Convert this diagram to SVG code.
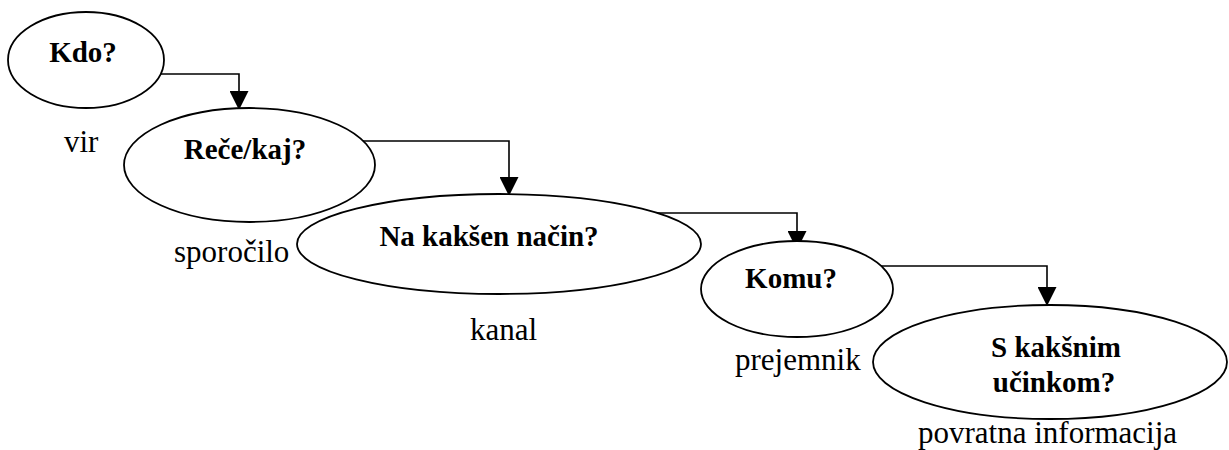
<svg xmlns="http://www.w3.org/2000/svg" width="1229" height="450" viewBox="0 0 1229 450">
  <style>
    .node ellipse { fill: #ffffff; stroke: #000000; stroke-width: 1.8; }
    .q { font-family: 'Liberation Serif', 'DejaVu Serif', serif; font-weight: bold; font-size: 29px; fill: #000000; text-anchor: middle; }
    .lbl { font-family: 'Liberation Serif', 'DejaVu Serif', serif; font-size: 31px; fill: #000000; }
    .edge { fill: none; stroke: #000000; stroke-width: 1.6; marker-end: url(#arrow); }
  </style>
  <defs>
    <marker id="arrow" viewBox="0 0 20 20" refX="20" refY="10" markerWidth="19" markerHeight="19" markerUnits="userSpaceOnUse" orient="auto">
      <path d="M0,0 L20,10 L0,20 z" fill="#000000"/>
    </marker>
  </defs>
  <rect width="1229" height="450" fill="#ffffff"/>

  <!-- communication chain: who, says what, through which channel, to whom, with what effect -->
  <g id="connectors">
    <path class="edge" d="M161,74 H239 V110"/>
    <path class="edge" d="M363,141 H509 V196"/>
    <path class="edge" d="M654,213 H797 V250"/>
    <path class="edge" d="M881,266 H1047 V306"/>
  </g>

  <g id="node-kdo" class="node">
    <ellipse cx="86" cy="60" rx="78" ry="48"/>
    <text class="q" x="83" y="62">Kdo?</text>
  </g>

  <g id="node-rece" class="node">
    <ellipse cx="249.5" cy="165" rx="125.5" ry="57"/>
    <text class="q" x="245" y="159">Reče/kaj?</text>
  </g>

  <g id="node-nacin" class="node">
    <ellipse cx="499" cy="244" rx="202" ry="50"/>
    <text class="q" x="489" y="246">Na kakšen način?</text>
  </g>

  <g id="node-komu" class="node">
    <ellipse cx="797" cy="289" rx="96" ry="48"/>
    <text class="q" x="791" y="288">Komu?</text>
  </g>

  <g id="node-ucinek" class="node">
    <ellipse cx="1050" cy="362" rx="177" ry="57"/>
    <text class="q" x="1056" y="357">S kakšnim</text>
    <text class="q" x="1054" y="392">učinkom?</text>
  </g>

  <g id="labels">
    <text class="lbl" x="64" y="152">vir</text>
    <text class="lbl" x="174" y="262">sporočilo</text>
    <text class="lbl" x="470" y="340">kanal</text>
    <text class="lbl" x="735" y="370">prejemnik</text>
    <text class="lbl" x="918" y="443">povratna informacija</text>
  </g>
</svg>
